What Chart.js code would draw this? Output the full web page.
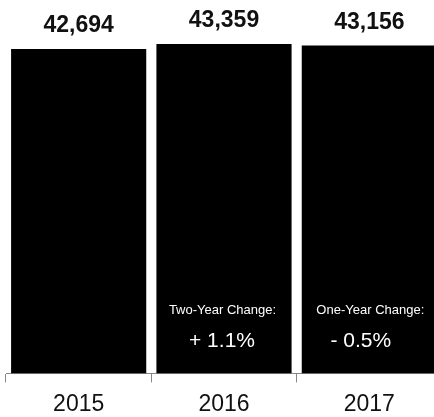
<!DOCTYPE html>
<html>
<head>
<meta charset="utf-8">
<script src="https://cdn.jsdelivr.net/npm/chart.js@4"></script>
<style>
  html, body { margin: 0; padding: 0; background: #fff; overflow: hidden; width: 434px; height: 417px; }
  #wrap { width: 434px; height: 417px; overflow: hidden; position: relative; }
  #chart { position: absolute; left: 0; top: 0; }
</style>
</head>
<body>
<div id="wrap"><canvas id="chart" width="442" height="417"></canvas></div>
<script>
const years = ['2015', '2016', '2017'];
const totals = [42694, 43359, 43156];
const changeTitles = ['', 'Two-Year Change:', 'One-Year Change:'];
const changeValues = ['', '+ 1.1%', '- 0.5%'];

const FONT = '"Liberation Sans", Arial, Helvetica, sans-serif';

// value labels above bars + change notes inside bars
const barLabels = {
  id: 'barLabels',
  afterDatasetsDraw(chart) {
    const ctx = chart.ctx;
    const meta = chart.getDatasetMeta(0);
    ctx.save();
    ctx.textAlign = 'center';
    ctx.textBaseline = 'alphabetic';
    meta.data.forEach((bar, i) => {
      ctx.fillStyle = '#111';
      ctx.font = 'bold 23px ' + FONT;
      ctx.fillText(totals[i].toLocaleString('en-US'), bar.x, bar.y - 17);

      if (changeTitles[i]) {
        ctx.fillStyle = '#fff';
        ctx.font = '13px ' + FONT;
        ctx.fillText(changeTitles[i], bar.x + (i === 2 ? 1 : -1.5), 314);
        ctx.font = '21px ' + FONT;
        ctx.fillText(changeValues[i], bar.x + (i === 2 ? -8.5 : -2), 347);
      }
    });
    ctx.restore();
  }
};

new Chart(document.getElementById('chart'), {
  type: 'bar',
  data: {
    labels: years,
    datasets: [{
      data: totals,
      backgroundColor: '#000',
      barPercentage: 0.93,
      categoryPercentage: 1
    }]
  },
  options: {
    responsive: false,
    animation: false,
    layout: { padding: { left: 6, right: 0, top: 0, bottom: -9 } },
    plugins: { legend: { display: false }, tooltip: { enabled: false } },
    scales: {
      x: {
        offset: true,
        border: { display: true, color: '#888', width: 1 },
        grid: { display: true, drawOnChartArea: false, drawTicks: true, tickLength: 9, color: '#888', offset: true },
        ticks: { color: '#111', padding: 8, font: { family: FONT, size: 23 } }
      },
      y: {
        display: false,
        min: 0,
        max: 49150
      }
    }
  },
  plugins: [barLabels]
});
</script>
</body>
</html>
